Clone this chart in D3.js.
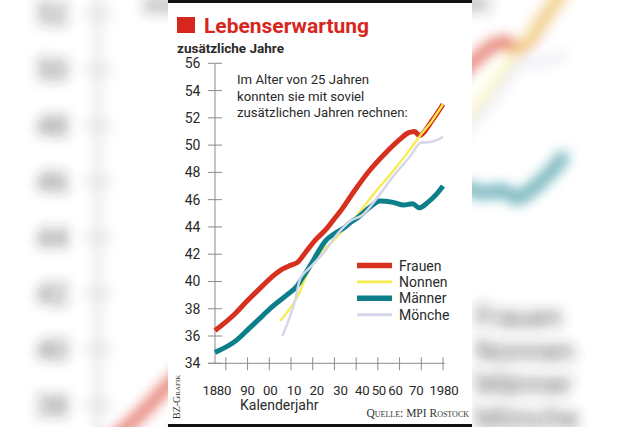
<!DOCTYPE html>
<html><head><meta charset="utf-8">
<script src="https://cdn.jsdelivr.net/npm/d3@7"></script>
<style>body{margin:0;background:#fff;overflow:hidden}svg{display:block}</style>
</head><body>
<svg id="c" width="640" height="427"></svg>
<script>
// ---- data (year, additional years of life at age 25) ----
const frauen = [[1875,36.4],[1884,37.6],[1890,38.6],[1897,39.7],[1901,40.3],[1906,40.9],[1910,41.2],[1913,41.4],[1917,42.2],[1921,43.0],[1926,43.8],[1930,44.6],[1933,45.2],[1939,46.6],[1946,48.1],[1954,49.5],[1960,50.4],[1964,50.9],[1967,51.0],[1969,50.7],[1975,51.8],[1980,53.0]];
const nonnen = [[1905,37.1],[1908,37.7],[1914,39.2],[1917,40.4],[1920,41.3],[1924,42.2],[1929,42.9],[1933,43.6],[1938,44.4],[1948,46.4],[1956,47.9],[1963,49.3],[1969,50.6],[1975,51.8],[1980,53.0]];
const maenner = [[1875,34.8],[1885,35.7],[1891,36.6],[1897,37.5],[1901,38.1],[1908,39.0],[1913,39.7],[1915,40.2],[1919,41.2],[1923,42.3],[1926,43.0],[1930,43.5],[1935,44.0],[1938,44.4],[1940,44.6],[1946,45.4],[1951,45.9],[1957,45.8],[1962,45.6],[1966,45.7],[1969,45.4],[1973,45.8],[1977,46.4],[1980,47.0]];
const moenche = [[1906,36.0],[1909,37.2],[1912,38.7],[1914,40.1],[1916,40.6],[1918,40.9],[1921,41.4],[1926,42.3],[1930,43.2],[1937,44.4],[1943,44.9],[1950,46.2],[1957,47.7],[1965,49.2],[1970,50.2],[1972,50.2],[1976,50.3],[1980,50.6]];

const seriesNames = ["Frauen","Nonnen","Männer","Mönche"];
const seriesData = [frauen, nonnen, maenner, moenche];
const seriesColors = ["#d8301f","#f8ec4c","#0c7f8b","#d6d6ea"];
const seriesWidths = [5, 2.3, 5, 2.5];

const yTicks = [34,36,38,40,42,44,46,48,50,52,54,56];
const xTickYears = [1880,1890,1900,1910,1920,1930,1940,1950,1960,1970,1980];
const xTickLabels = ["1880","90","00","10","20","30","40","50","60","70","1980"];
const titleText = "Lebenserwartung";
const subtitleText = "zusätzliche Jahre";
const noteLines = ["Im Alter von 25 Jahren","konnten sie mit soviel","zusätzlichen Jahren rechnen:"];
const xTitle = "Kalenderjahr";
const sourceText = "Quelle: MPI Rostock";
const creditText = "BZ-Grafik";

// ---- layout ----
const svg = d3.select("#c");
const FONT = "Roboto, 'Noto Sans', sans-serif";
const SERIF = "'Liberation Serif', 'DejaVu Serif', serif";
const AX = "#8c8c8c", TXT = "#2a2a2a", RED = "#d7261e";
// small horizontal nudges for hand-set x labels (layout, not data)
const xLabelNudge = [-9,0,1,3,4,6,6,1,-4,-5,1];

const x = d3.scaleLinear().domain([1875,1980]).range([215,443]);
const y = d3.scaleLinear().domain([34,56]).range([363.3,63.3]);

const defs = svg.append("defs");
const f = defs.append("filter").attr("id","blur")
  .attr("x","-20%").attr("y","-20%").attr("width","140%").attr("height","140%");
f.append("feGaussianBlur").attr("stdDeviation",3.2);

function drawChart(g){
  // title
  g.append("rect").attr("x",177).attr("y",17).attr("width",18).attr("height",16).attr("fill",RED);
  g.append("text").attr("x",204).attr("y",32.5).text(titleText)
    .attr("font-family",FONT).attr("font-weight","bold").attr("font-size",21)
    .attr("fill",RED).attr("textLength",165).attr("lengthAdjust","spacingAndGlyphs");
  g.append("text").attr("x",177).attr("y",52.5).text(subtitleText)
    .attr("font-family",FONT).attr("font-weight","bold").attr("font-size",13)
    .attr("fill",TXT).attr("textLength",107).attr("lengthAdjust","spacingAndGlyphs");

  // y axis
  g.append("line").attr("x1",215).attr("x2",215).attr("y1",y(56)).attr("y2",y(34))
    .attr("stroke",AX).attr("stroke-width",1);
  g.selectAll(null).data(yTicks).enter().append("line")
    .attr("x1",208).attr("x2",222).attr("y1",d=>y(d)).attr("y2",d=>y(d))
    .attr("stroke",AX).attr("stroke-width",1);
  g.selectAll(null).data(yTicks).enter().append("text")
    .attr("x",200.5).attr("y",d=>y(d)+5).attr("text-anchor","end").text(d=>d)
    .attr("font-family",FONT).attr("font-size",14).attr("fill",TXT);

  // x axis
  g.append("line").attr("x1",208).attr("x2",445).attr("y1",y(34)).attr("y2",y(34))
    .attr("stroke",AX).attr("stroke-width",1);
  g.selectAll(null).data(xTickYears).enter().append("line")
    .attr("x1",d=>x(d)).attr("x2",d=>x(d)).attr("y1",y(34)-6).attr("y2",y(34)+7)
    .attr("stroke",AX).attr("stroke-width",1);
  g.selectAll(null).data(xTickYears).enter().append("text")
    .attr("x",(d,i)=>x(d) + xLabelNudge[i]).attr("y",395).attr("text-anchor","middle")
    .text((d,i)=>xTickLabels[i])
    .attr("font-family",FONT).attr("font-size",13.2).attr("letter-spacing",-0.2).attr("fill",TXT);
  g.append("text").attr("x",240).attr("y",410).text(xTitle)
    .attr("font-family",FONT).attr("font-size",14).attr("fill",TXT);

  // annotation
  g.selectAll(null).data(noteLines).enter().append("text")
    .attr("x",237).attr("y",(d,i)=>84+i*16.5).text(d=>d)
    .attr("font-family",FONT).attr("font-size",13.2).attr("fill",TXT);

  // series
  const line = d3.line().x(d=>x(d[0])).y(d=>y(d[1])).curve(d3.curveMonotoneX);
  seriesData.forEach((s,i)=>{
    g.append("path").attr("d",line(s)).attr("fill","none")
      .attr("stroke",seriesColors[i]).attr("stroke-width",seriesWidths[i])
      .attr("stroke-linejoin","round").attr("stroke-linecap","butt");
  });

  // legend
  seriesNames.forEach((n,i)=>{
    const ly = 265.5 + i*16.4;
    g.append("line").attr("x1",357).attr("x2",392).attr("y1",ly).attr("y2",ly)
      .attr("stroke",seriesColors[i]).attr("stroke-width",seriesWidths[i]+0.5);
    g.append("text").attr("x",399).attr("y",ly+5).text(n)
      .attr("font-family",FONT).attr("font-size",14).attr("fill",TXT);
  });

  // credits
  g.append("text").attr("transform","translate(180,419) rotate(-90)").text(creditText)
    .attr("font-family",SERIF).attr("font-size",10).attr("font-variant","small-caps")
    .attr("fill","#333");
  g.append("text").attr("x",469).attr("y",417).attr("text-anchor","end").text(sourceText)
    .attr("font-family",SERIF).attr("font-size",11.5).attr("font-variant","small-caps")
    .attr("fill","#333");
}

// blurred enlarged backdrop
const bg = svg.append("g").attr("transform","translate(-342.7,-227.5) scale(2.05)");
const bgInner = bg.append("g").attr("filter","url(#blur)").attr("opacity",0.75);
drawChart(bgInner);

// central panel
svg.append("rect").attr("x",168).attr("y",0).attr("width",304).attr("height",427).attr("fill","#fff");
svg.append("rect").attr("x",168).attr("y",0).attr("width",304).attr("height",3).attr("fill","#111");
svg.append("rect").attr("x",168).attr("y",424).attr("width",304).attr("height",3).attr("fill","#111");

drawChart(svg.append("g"));
</script>
</body></html>
